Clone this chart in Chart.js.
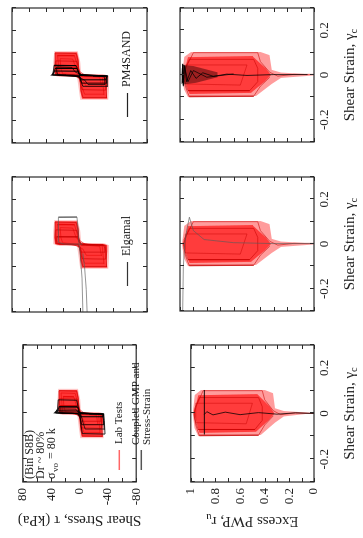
<!DOCTYPE html>
<html>
<head>
<meta charset="utf-8">
<script src="https://cdn.jsdelivr.net/npm/chart.js@4.4.1/dist/chart.umd.min.js"></script>
<style>
  html, body { margin: 0; padding: 0; background: #fff; width: 363px; height: 538px; overflow: hidden; }
  /* figure is laid out landscape, then turned a quarter turn like the scan */
  #fig { position: absolute; left: 0; top: 0; width: 538px; height: 363px;
         transform-origin: 0 0; transform: translate(0, 538px) rotate(-90deg); }
  #fig canvas { position: absolute; }
</style>
</head>
<body>
<div id="fig"></div>
<script>
// tick labels
const strainLabels = [-0.2, 0, 0.2];
const stressLabels = [80, 40, 0, -40, -80];
const pwpLabels = [1, 0.8, 0.6, 0.4, 0.2, 0];

// Lab tests: shear stress (kPa) vs shear strain, [strain, stress]
const labStressUp = [[-0.004, 0], [-0.003, 24], [0.002, 29], [0.03, 30], [0.07, 29], [0.103, 29], [0.103, 3], [0.07, 1], [0.03, 0.5], [0.005, -1]];
const labStressDn = [[0.004, 2], [0.003, -28], [-0.003, -33], [-0.03, -33], [-0.07, -32], [-0.103, -33], [-0.103, -3], [-0.07, -1], [-0.03, -0.5], [-0.005, 1]];
const labFringeUp = [[-0.006, -1], [-0.005, 26], [0.002, 31], [0.06, 31], [0.108, 30], [0.108, 2], [0.06, -1], [0.005, -2]];
const labFringeDn = [[0.006, 3], [0.005, -30], [-0.003, -35], [-0.06, -35], [-0.108, -34], [-0.108, -1], [-0.06, 1], [-0.005, 3]];
const labLoop1 = [[-0.1, -32], [-0.098, -4], [-0.06, -1.5], [-0.02, -0.5], [-0.003, 2], [0.001, 20], [0.004, 28], [0.04, 29], [0.1, 29], [0.098, 4], [0.06, 1.5], [0.02, 0.5], [0.003, -2], [-0.001, -20], [-0.004, -31], [-0.04, -32], [-0.1, -32]];
const labLoop2 = [[-0.065, -31], [-0.063, -3], [-0.03, -1], [-0.002, 1], [0.001, 18], [0.004, 27], [0.03, 28], [0.065, 28], [0.063, 3], [0.03, 1], [0.002, -1], [-0.001, -18], [-0.004, -30], [-0.03, -31], [-0.065, -31]];
const labLoop3 = [[-0.035, -30], [-0.034, -2], [-0.015, -1], [-0.001, 2], [0.002, 24], [0.015, 27], [0.035, 27], [0.034, 2], [0.015, 1], [0.001, -2], [-0.002, -28], [-0.015, -30], [-0.035, -30]];
const labLoop4 = [[-0.085, -29], [-0.083, -6], [-0.05, -3], [-0.01, -1], [0.002, 12], [0.006, 24], [0.05, 25], [0.09, 26], [0.088, 6], [0.05, 3], [0.01, 1], [-0.002, -12], [-0.006, -27], [-0.05, -28], [-0.085, -29]];
const labLoop5 = [[-0.05, -26], [-0.048, -8], [-0.02, -4], [0.003, 8], [0.008, 20], [0.03, 22], [0.075, 23], [0.073, 8], [0.03, 4], [-0.003, -8], [-0.008, -24], [-0.03, -25], [-0.05, -26]];

// Coupled GMP model, stress-strain
const gmpLoop1 = [[-0.09, -36], [-0.088, -4], [-0.05, -2], [-0.01, -1], [-0.002, 3], [0, 18], [0.003, 34], [0.02, 31], [0.06, 30], [0.058, 4], [0.03, 2], [0.004, 0], [0.001, -14], [-0.002, -34], [-0.03, -35], [-0.09, -36]];
const gmpLoop2 = [[-0.05, -34], [-0.049, -3], [-0.02, -1], [-0.002, 2], [0.001, 20], [0.003, 33], [0.015, 30], [0.03, 29], [0.029, 3], [0.01, 1], [0.002, -1], [0, -20], [-0.003, -34], [-0.02, -34], [-0.05, -34]];
const gmpLoop3 = [[-0.015, -33], [-0.014, -2], [-0.002, 0], [0.001, 22], [0.003, 35], [0.012, 32], [0.011, 2], [0.001, 0], [-0.001, -22], [-0.003, -34], [-0.015, -33]];
const gmpLoop4 = [[-0.07, -35], [-0.068, -8], [-0.04, -5], [-0.005, -2], [0.002, 10], [0.005, 30], [0.01, 32], [0.02, 31], [0.019, 5], [0.005, 2], [-0.001, -10], [-0.004, -32], [-0.03, -34], [-0.07, -35]];

// Elgamal model, stress-strain (runs away to -0.3)
const elgLoop = [[0, -3], [0.002, 18], [0.01, 25], [0.06, 25], [0.12, 25], [0.122, 3], [0.08, 2], [0.02, 1], [-0.05, -1], [-0.15, -3], [-0.3, -4]];
const elgTail = [[-0.3, -9], [-0.2, -8], [-0.1, -6], [-0.04, -4]];

// PM4SAND model, stress-strain
const pm4Loop1 = [[-0.05, -33], [-0.048, -4], [-0.025, -1.5], [-0.003, 0], [0, 16], [0.002, 32], [0.02, 31], [0.046, 30], [0.044, 4], [0.02, 1.5], [0.003, 0], [0, -16], [-0.002, -33], [-0.02, -33], [-0.05, -33]];
const pm4Loop2 = [[-0.035, -32], [-0.034, -3], [-0.015, -1], [-0.002, 0], [0.001, 20], [0.003, 31], [0.015, 30], [0.032, 29], [0.031, 3], [0.012, 1], [0.002, 0], [0, -20], [-0.003, -32], [-0.015, -32], [-0.035, -32]];
const pm4Loop3 = [[-0.02, -31], [-0.019, -2], [-0.005, 0], [0.001, 25], [0.002, 33], [0.01, 31], [0.02, 30], [0.019, 2], [0.005, 0], [-0.001, -25], [-0.002, -33], [-0.01, -32], [-0.02, -31]];
const pm4Loop4 = [[-0.042, -30], [-0.04, -10], [-0.02, -6], [0.001, 6], [0.004, 26], [0.02, 27], [0.038, 27], [0.036, 9], [0.015, 5], [-0.001, -6], [-0.004, -29], [-0.02, -30], [-0.042, -30]];

// Lab tests: excess PWP ratio vs shear strain, [strain, ru]
const labPwpEnv = [[0, 0.985], [0.081, 0.968], [0.103, 0.918], [0.103, 0.4], [0.089, 0.333], [0.023, 0.316], [0.011, 0.246], [0.002, 0], [-0.002, 0], [-0.013, 0.246], [-0.04, 0.316], [-0.094, 0.433], [-0.099, 0.94], [-0.064, 0.97]];
const labPwpCore = [[0, 0.975], [0.08, 0.94], [0.085, 0.46], [0.03, 0.36], [0, 0.32], [-0.03, 0.37], [-0.08, 0.47], [-0.085, 0.93]];
const labPwpTrace1 = [[0, 0], [0.003, 0.15], [-0.005, 0.27], [0.012, 0.33], [0.06, 0.4], [0.1, 0.42], [0.1, 0.9], [0.04, 0.95], [0, 0.975], [-0.05, 0.96], [-0.098, 0.93], [-0.095, 0.45], [-0.05, 0.4], [-0.01, 0.33]];
const labPwpTrace2 = [[0.07, 0.45], [0.07, 0.93], [0.02, 0.97], [-0.02, 0.97], [-0.07, 0.94], [-0.07, 0.48], [-0.03, 0.42], [0.03, 0.42], [0.07, 0.45]];
const labPwpTrace3 = [[0.045, 0.5], [0.045, 0.96], [-0.04, 0.96], [-0.045, 0.55], [0.045, 0.5]];

// model PWP traces
const gmpPwpLine = [[-0.092, 0.89], [0.103, 0.89]];
const gmpPwpTrace = [[0, 0], [0.003, 0.15], [-0.003, 0.3], [0.004, 0.45], [-0.005, 0.6], [0.006, 0.72], [-0.006, 0.82], [0.008, 0.87], [-0.004, 0.89]];
const elgPwp = [[0, 0], [0.002, 0.3], [0.006, 0.6], [0.02, 0.82], [0.06, 0.9], [0.12, 0.93], [0.06, 0.95], [0, 0.965], [-0.1, 0.975], [-0.3, 0.98]];
const pm4PwpCore = [[0, 0.988], [0.045, 0.982], [0.04, 0.9], [0.012, 0.72], [-0.01, 0.72], [-0.035, 0.88], [-0.042, 0.975]];
const pm4PwpTrace1 = [[0, 0.05], [0.002, 0.3], [-0.002, 0.5], [0.004, 0.65], [-0.006, 0.75], [0.01, 0.83], [-0.015, 0.88], [0.02, 0.92], [-0.03, 0.95], [0.04, 0.965], [-0.045, 0.975], [0.047, 0.98], [-0.035, 0.982], [0.03, 0.983]];
const pm4PwpTrace2 = [[0.005, 0.6], [-0.01, 0.8], [0.02, 0.9], [-0.03, 0.94], [0.045, 0.97], [-0.05, 0.975], [0.05, 0.98], [-0.04, 0.985]];

// layout of the landscape figure
const colLeft = [56, 226, 395];
const colWidth = [137, 135, 135];
const rowTop = [12, 180];
const rowHeight = [135, 134];

const FONT = 'Liberation Serif';
const INK = '#222';
const fig = document.getElementById('fig');

const pts = a => a.map(p => ({ x: p[0], y: p[1] }));

function trace(arr, color, width) {
  return { data: pts(arr), showLine: true, borderColor: color, borderWidth: width, pointRadius: 0, fill: false };
}

function patch(arr, color) {
  return { data: pts(arr.concat([arr[0]])), showLine: true, borderColor: 'rgba(0,0,0,0)', borderWidth: 0,
           backgroundColor: color, pointRadius: 0, fill: 'shape' };
}

function labStressSets() {
  return [
    trace(labLoop1, 'rgba(200,0,0,0.6)', 1),
    trace(labLoop2, 'rgba(200,0,0,0.6)', 1),
    trace(labLoop3, 'rgba(200,0,0,0.6)', 1),
    trace(labLoop4, 'rgba(230,0,0,0.5)', 1),
    trace(labLoop5, 'rgba(230,0,0,0.5)', 1),
    patch(labStressUp, 'rgba(255,0,0,0.72)'),
    patch(labStressDn, 'rgba(255,0,0,0.72)'),
    patch(labFringeUp, 'rgba(255,60,60,0.3)'),
    patch(labFringeDn, 'rgba(255,60,60,0.3)')
  ];
}

function labPwpSets() {
  return [
    trace(labPwpTrace1, 'rgba(200,0,0,0.55)', 1),
    trace(labPwpTrace2, 'rgba(200,0,0,0.55)', 1),
    trace(labPwpTrace3, 'rgba(200,0,0,0.45)', 1),
    patch(labPwpCore, 'rgba(255,0,0,0.62)'),
    patch(labPwpEnv, 'rgba(255,20,20,0.42)')
  ];
}

// inward ticks on all four sides plus the frame
const boxTicks = {
  id: 'boxTicks',
  afterDatasetsDraw(chart) {
    const { ctx, chartArea: a, scales } = chart;
    ctx.save();
    ctx.strokeStyle = '#2a2a2a';
    ctx.lineWidth = 1;
    ctx.beginPath();
    scales.x.ticks.forEach(t => {
      const p = Math.round(scales.x.getPixelForValue(t.value)) + 0.5;
      ctx.moveTo(p, a.top); ctx.lineTo(p, a.top + 4);
      ctx.moveTo(p, a.bottom); ctx.lineTo(p, a.bottom - 4);
    });
    scales.y.ticks.forEach(t => {
      const p = Math.round(scales.y.getPixelForValue(t.value)) + 0.5;
      ctx.moveTo(a.left, p); ctx.lineTo(a.left + 4, p);
      ctx.moveTo(a.right, p); ctx.lineTo(a.right - 4, p);
    });
    ctx.stroke();
    ctx.lineWidth = 1.2;
    ctx.strokeRect(a.left, a.top, a.right - a.left, a.bottom - a.top);
    ctx.restore();
  }
};

// text with a subscript, centred on (cx, cy)
function drawSub(ctx, main, sub, cx, cy, rot, size) {
  ctx.save();
  ctx.translate(cx, cy);
  ctx.rotate(rot);
  ctx.fillStyle = INK;
  ctx.textBaseline = 'middle';
  ctx.textAlign = 'left';
  ctx.font = size + 'px "' + FONT + '"';
  const w1 = ctx.measureText(main).width;
  ctx.font = (size * 0.7) + 'px "' + FONT + '"';
  const w2 = ctx.measureText(sub).width;
  const x0 = -(w1 + w2) / 2;
  ctx.font = size + 'px "' + FONT + '"';
  ctx.fillText(main, x0, 0);
  ctx.font = (size * 0.7) + 'px "' + FONT + '"';
  ctx.fillText(sub, x0 + w1, size * 0.3);
  ctx.restore();
}

const strainTitle = {
  id: 'strainTitle',
  afterDraw(chart) {
    const a = chart.chartArea;
    drawSub(chart.ctx, 'Shear Strain, γ', 'c', (a.left + a.right) / 2, a.bottom + 36, 0, 15);
  }
};

const pwpTitle = {
  id: 'pwpTitle',
  afterDraw(chart) {
    const a = chart.chartArea;
    drawSub(chart.ctx, 'Excess PWP, r', 'u', 17, (a.top + a.bottom) / 2, -Math.PI / 2, 15);
  }
};

function modelKey(name, color) {
  return {
    id: 'key' + name,
    afterDatasetsDraw(chart) {
      const { ctx, chartArea: a } = chart;
      ctx.save();
      ctx.strokeStyle = color;
      ctx.lineWidth = 1.2;
      ctx.beginPath();
      ctx.moveTo(a.left + 26, a.top + 115.5);
      ctx.lineTo(a.left + 50, a.top + 115.5);
      ctx.stroke();
      ctx.fillStyle = INK;
      ctx.font = '12px "' + FONT + '"';
      ctx.textBaseline = 'middle';
      ctx.fillText(name, a.left + 56, a.top + 115);
      ctx.restore();
    }
  };
}

const labNote = {
  id: 'labNote',
  afterDatasetsDraw(chart) {
    const { ctx, chartArea: a } = chart;
    const L = a.left, T = a.top;
    ctx.save();
    ctx.fillStyle = INK;
    ctx.textBaseline = 'middle';
    ctx.textAlign = 'left';
    ctx.font = '12px "' + FONT + '"';
    ctx.fillText('(Bin S8B)', L + 3, T + 7);
    ctx.fillText('Dr ~ 80%', L + 3, T + 18);
    ctx.fillText('σ', L + 3, T + 29);
    ctx.font = '9px "' + FONT + '"';
    ctx.fillText('′', L + 9, T + 23);
    ctx.fillText('vo', L + 10, T + 33);
    ctx.font = '12px "' + FONT + '"';
    ctx.fillText('= 80 k', L + 23, T + 29);
    // legend
    ctx.lineWidth = 1.5;
    ctx.strokeStyle = 'rgba(255,0,0,0.6)';
    ctx.beginPath(); ctx.moveTo(L + 12, T + 96.5); ctx.lineTo(L + 32, T + 96.5); ctx.stroke();
    ctx.strokeStyle = '#555';
    ctx.beginPath(); ctx.moveTo(L + 12, T + 118.5); ctx.lineTo(L + 32, T + 118.5); ctx.stroke();
    ctx.font = '11px "' + FONT + '"';
    ctx.fillText('Lab Tests', L + 38, T + 96);
    ctx.fillText('Coupled GMP and', L + 37, T + 113);
    ctx.fillText('Stress-Strain', L + 37, T + 124);
    ctx.restore();
  }
};

function makeChart(col, row, datasets, extra) {
  const yW = col === 0 ? 56 : 2;
  const xH = row === 1 ? 49 : 3;
  const w = yW + colWidth[col] + 3;
  const h = 3 + rowHeight[row] + xH;
  const cv = document.createElement('canvas');
  cv.width = w; cv.height = h;
  cv.style.left = (colLeft[col] - yW) + 'px';
  cv.style.top = (rowTop[row] - 3) + 'px';
  cv.style.width = w + 'px';
  cv.style.height = h + 'px';
  fig.appendChild(cv);

  const tickFont = { family: FONT, size: 13 };
  const yScale = row === 0
    ? { min: -80, max: 80,
        ticks: { stepSize: 20, callback: v => stressLabels.includes(v) ? String(v) : '' },
        title: { display: col === 0, text: 'Shear Stress, τ (kPa)', color: INK,
                 font: { family: FONT, size: 15 }, padding: { top: 9, bottom: 0 } } }
    : { min: 0, max: 1,
        ticks: { stepSize: 0.1, callback: v => { const r = Math.round(v * 10) / 10; return pwpLabels.includes(r) ? String(r) : ''; } } };

  new Chart(cv, {
    type: 'scatter',
    data: { datasets },
    options: {
      responsive: false,
      animation: false,
      events: [],
      layout: { padding: { top: 3, right: 3, left: 0, bottom: 0 } },
      plugins: { legend: { display: false }, tooltip: { enabled: false } },
      scales: {
        x: {
          type: 'linear', min: -0.3, max: 0.3,
          grid: { display: false, drawTicks: false },
          border: { display: false },
          ticks: {
            stepSize: 0.1, display: row === 1, autoSkip: false, maxRotation: 0, padding: 3,
            font: tickFont, color: INK,
            callback: v => { const r = Math.round(v * 10) / 10; return strainLabels.includes(r) ? String(r) : ''; }
          },
          afterFit: s => { s.height = xH; }
        },
        y: {
          type: 'linear', min: yScale.min, max: yScale.max,
          grid: { display: false, drawTicks: false },
          border: { display: false },
          ticks: Object.assign({ display: col === 0, autoSkip: false, padding: 6, font: tickFont, color: INK }, yScale.ticks),
          title: yScale.title || { display: false },
          afterFit: s => { s.width = yW; }
        }
      }
    },
    plugins: [boxTicks].concat(extra || [])
  });
}

// top row: shear stress vs strain
makeChart(0, 0, [
  trace(gmpLoop1, 'rgba(0,0,0,0.8)', 1),
  trace(gmpLoop2, 'rgba(0,0,0,0.8)', 1),
  trace(gmpLoop3, 'rgba(0,0,0,0.85)', 1.2),
  trace(gmpLoop4, 'rgba(0,0,0,0.7)', 1)
].concat(labStressSets()), [labNote]);

makeChart(1, 0, [
  trace(elgLoop, 'rgba(90,90,90,0.8)', 0.8),
  trace(elgTail, 'rgba(90,90,90,0.8)', 0.8)
].concat(labStressSets()), [modelKey('Elgamal', '#333')]);

makeChart(2, 0, [
  trace(pm4Loop1, 'rgba(0,0,0,0.8)', 1),
  trace(pm4Loop2, 'rgba(0,0,0,0.8)', 1),
  trace(pm4Loop3, 'rgba(0,0,0,0.85)', 1.2),
  trace(pm4Loop4, 'rgba(0,0,0,0.7)', 1)
].concat(labStressSets()), [modelKey('PM4SAND', '#222')]);

// bottom row: excess pore pressure ratio vs strain
makeChart(0, 1, [
  trace(gmpPwpLine, 'rgba(0,0,0,0.9)', 1),
  trace(gmpPwpTrace, 'rgba(0,0,0,0.75)', 1)
].concat(labPwpSets()), [pwpTitle, strainTitle]);

makeChart(1, 1, [
  trace(elgPwp, 'rgba(90,90,90,0.8)', 0.8)
].concat(labPwpSets()), [strainTitle]);

makeChart(2, 1, [
  trace(pm4PwpTrace1, 'rgba(0,0,0,0.75)', 1),
  trace(pm4PwpTrace2, 'rgba(0,0,0,0.7)', 1),
  patch(pm4PwpCore, 'rgba(40,0,0,0.45)')
].concat(labPwpSets()), [strainTitle]);
</script>
</body>
</html>
